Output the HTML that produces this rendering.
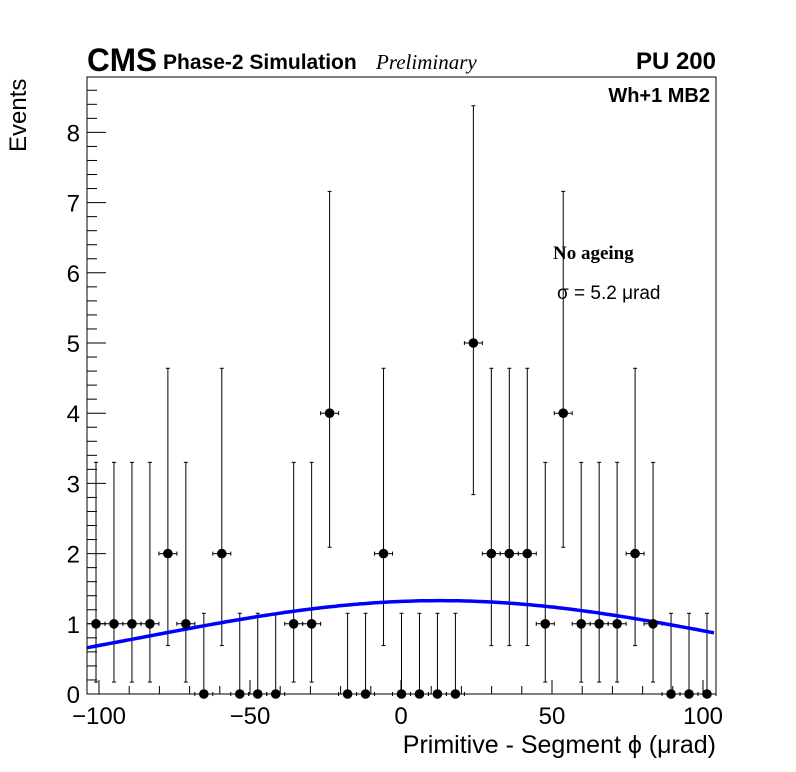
<!DOCTYPE html>
<html><head><meta charset="utf-8"><style>
body{margin:0;background:#fff;}
svg{display:block;font-family:"Liberation Sans",sans-serif;}
</style></head><body>
<svg id="s" width="796" height="772" xmlns="http://www.w3.org/2000/svg">
<rect x="0" y="0" width="796" height="772" fill="#fff"/>
<g id="g"></g>
<rect x="87" y="77" width="629" height="617" fill="none" stroke="#000" stroke-width="1"/>
<text x="87" y="71" font-size="32" font-weight="bold" textLength="70" lengthAdjust="spacingAndGlyphs">CMS</text>
<text x="163" y="69" font-size="21" font-weight="bold">Phase-2 Simulation</text>
<text x="376" y="69" font-size="21" font-style="italic" font-family="Liberation Serif,serif">Preliminary</text>
<text x="716" y="69" font-size="24" font-weight="bold" text-anchor="end">PU 200</text>
<text x="710" y="102" font-size="20" font-weight="bold" text-anchor="end">Wh+1 MB2</text>
<text x="553" y="259" font-size="19" font-weight="bold" font-family="Liberation Serif,serif">No ageing</text>
<text x="557" y="299" font-size="19">σ = 5.2  μrad</text>
<text x="716" y="753" font-size="25" text-anchor="end">Primitive - Segment ϕ (μrad)</text>
<text transform="translate(26,152) rotate(-90)" font-size="24">Events</text>
</svg>
<script>
var g=document.getElementById('g'),h='';
function Y(v){return 694-v*70.2;}
function X(u){return 401+u*3.02;}
function L(a,b,c,d,col,w){h+='<line x1="'+a+'" y1="'+b+'" x2="'+c+'" y2="'+d+'" stroke="'+(col||'#000')+'" stroke-width="'+(w||1)+'"/>';}
for(var i=0;i<=44;i++){var v=i*0.2,y=Y(v);if(y<77)break;var maj=(i%5==0);L(87,y,87+(maj?19:10),y);
 if(maj)h+='<text x="80" y="'+(y+9)+'" font-size="24" text-anchor="end">'+(i/5)+'</text>';}
for(var u=-100;u<=100;u+=10){var x=X(u),maj=(u%50==0);L(x,694,x,694-(maj?14:8));
 if(maj)h+='<text x="'+x+'" y="724" font-size="24" text-anchor="middle">'+(u<0?'\u2212'+(-u):u)+'</text>';}
var vals=[1,1,1,1,2,1,0,2,0,0,0,1,1,4,0,0,2,0,0,0,0,5,2,2,2,1,4,1,1,1,2,1,0,0,0];
var up={0:1.15,1:3.3,2:4.64,4:7.16,5:8.38},dn={0:0,1:0.17,2:0.69,4:2.09,5:2.84};
var p='';for(var x=87;x<=716;x+=3){var v=1.33*Math.exp(-Math.pow(x-440,2)/(2*298*298));p+=x+','+Y(v).toFixed(1)+' ';}
var sp=17.97;
for(var i=0;i<35;i++){var x=96+i*sp,v=vals[i],y=Y(v);
 L(x,Y(up[v]),x,Y(dn[v]));L(x-2,Y(up[v]),x+2,Y(up[v]));if(v>0)L(x-2,Y(dn[v]),x+2,Y(dn[v]));
 L(x-9,y,x+9,y);L(x-9,y-2,x-9,y+2);L(x+9,y-2,x+9,y+2);}
h+='<polyline points="'+p+'" fill="none" stroke="#0000ff" stroke-width="3.5"/>';
for(var i=0;i<35;i++){var x=96+i*sp;h+='<circle cx="'+x+'" cy="'+Y(vals[i])+'" r="4.8" fill="#000"/>';}
g.innerHTML=h;
</script>
</body></html>
